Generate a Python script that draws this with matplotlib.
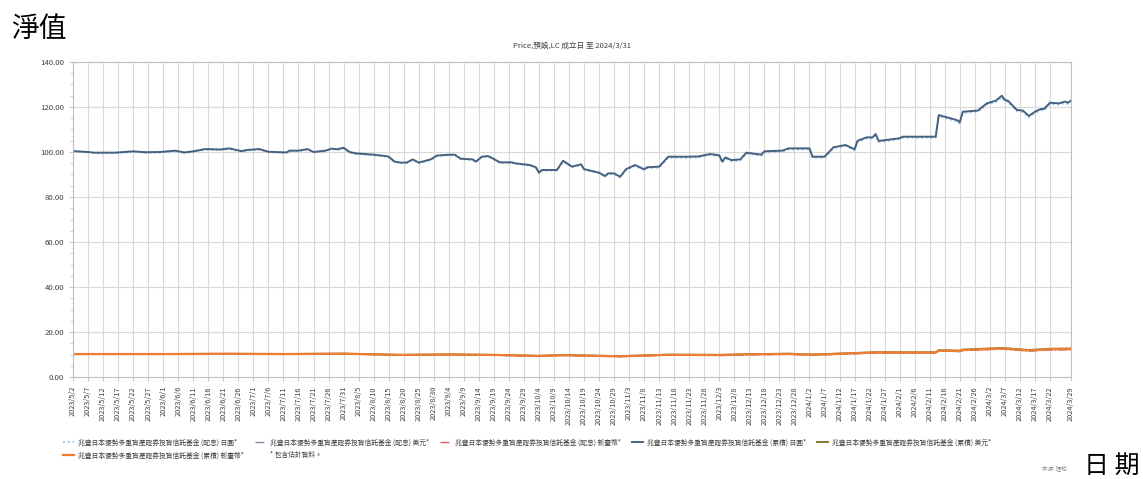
import numpy as np
import matplotlib
matplotlib.use("Agg")
import matplotlib.pyplot as plt
import pandas as pd
from matplotlib.lines import Line2D
from matplotlib.ticker import MultipleLocator

plt.rcParams['font.family'] = ['Noto Sans CJK TC', 'DejaVu Sans']

# 日圓級別 (累積 / 配息)
jpy_dates = ["2023-05-02", "2023-05-07", "2023-05-09", "2023-05-16", "2023-05-22", "2023-05-26",
             "2023-05-31", "2023-06-05", "2023-06-08", "2023-06-11", "2023-06-15", "2023-06-20",
             "2023-06-23", "2023-06-27", "2023-06-29", "2023-07-03", "2023-07-06", "2023-07-12",
             "2023-07-13", "2023-07-16", "2023-07-19", "2023-07-21", "2023-07-25", "2023-07-27",
             "2023-07-29", "2023-07-31", "2023-08-02", "2023-08-04", "2023-08-10", "2023-08-14",
             "2023-08-15", "2023-08-17", "2023-08-19", "2023-08-21", "2023-08-23", "2023-08-25",
             "2023-08-29", "2023-08-31", "2023-09-04", "2023-09-06", "2023-09-08", "2023-09-12",
             "2023-09-13", "2023-09-15", "2023-09-17", "2023-09-18", "2023-09-21", "2023-09-25",
             "2023-09-26", "2023-10-01", "2023-10-03", "2023-10-04", "2023-10-05", "2023-10-10",
             "2023-10-12", "2023-10-15", "2023-10-18", "2023-10-19", "2023-10-24", "2023-10-26",
             "2023-10-27", "2023-10-29", "2023-10-31", "2023-11-02", "2023-11-05", "2023-11-08",
             "2023-11-09", "2023-11-13", "2023-11-16", "2023-11-22", "2023-11-26", "2023-11-30",
             "2023-12-03", "2023-12-04", "2023-12-05", "2023-12-07", "2023-12-10", "2023-12-12",
             "2023-12-17", "2023-12-18", "2023-12-24", "2023-12-26", "2024-01-02", "2024-01-03",
             "2024-01-07", "2024-01-10", "2024-01-14", "2024-01-17", "2024-01-18", "2024-01-21",
             "2024-01-23", "2024-01-24", "2024-01-25", "2024-02-01", "2024-02-02", "2024-02-13",
             "2024-02-14", "2024-02-20", "2024-02-21", "2024-02-22", "2024-02-27", "2024-03-01",
             "2024-03-04", "2024-03-06", "2024-03-07", "2024-03-08", "2024-03-11", "2024-03-13",
             "2024-03-15", "2024-03-17", "2024-03-19", "2024-03-20", "2024-03-22", "2024-03-25",
             "2024-03-27", "2024-03-28", "2024-03-29"]
jpy_acc = [100.4, 100.0, 99.7, 99.7, 100.3, 99.9, 100.0, 100.6, 99.8, 100.3, 101.3, 101.1,
           101.6, 100.4, 100.9, 101.3, 100.1, 99.8, 100.6, 100.6, 101.3, 100.0, 100.6, 101.5,
           101.2, 101.9, 100.0, 99.4, 98.8, 98.2, 97.9, 95.7, 95.3, 95.3, 96.7, 95.3,
           96.7, 98.4, 98.8, 98.8, 97.0, 96.7, 95.7, 97.9, 98.2, 97.6, 95.4, 95.4,
           95.0, 94.2, 93.2, 90.8, 92.0, 92.0, 96.1, 93.5, 94.5, 92.4, 90.8, 89.3,
           90.5, 90.5, 89.0, 92.4, 94.2, 92.3, 93.2, 93.5, 97.9, 97.9, 98.0, 99.1,
           98.5, 95.7, 97.6, 96.4, 96.7, 99.7, 98.8, 100.3, 100.6, 101.6, 101.6, 97.9,
           97.9, 102.1, 103.1, 101.2, 105.0, 106.5, 106.5, 108.0, 104.9, 106.1, 106.8, 106.8,
           116.4, 114.2, 113.2, 117.9, 118.4, 121.6, 122.8, 125.0, 123.1, 122.8, 118.7, 118.4,
           116.0, 117.9, 119.1, 119.1, 121.9, 121.6, 122.4, 121.9, 122.8]
jpy_dist = [100.2, 99.8, 99.4, 99.4, 100.0, 99.6, 99.7, 100.3, 99.5, 100.0, 101.0, 100.8,
            101.3, 100.1, 100.6, 101.0, 99.8, 99.5, 100.3, 100.3, 101.0, 99.7, 100.3, 101.2,
            100.9, 101.6, 99.7, 99.1, 98.5, 97.9, 97.6, 95.4, 95.0, 95.0, 96.4, 95.0,
            96.4, 98.1, 98.5, 98.5, 96.7, 96.4, 95.4, 97.6, 97.9, 97.3, 95.1, 95.1,
            94.7, 93.9, 92.9, 90.5, 91.7, 91.7, 95.8, 93.2, 94.2, 92.1, 90.5, 89.0,
            90.2, 90.2, 88.7, 92.0, 93.8, 91.9, 92.8, 93.1, 97.4, 97.4, 97.5, 98.6,
            98.0, 95.2, 97.1, 95.9, 96.2, 99.2, 98.3, 99.8, 100.1, 101.1, 101.1, 97.4,
            97.4, 101.6, 102.6, 100.7, 104.5, 106.0, 106.0, 107.5, 104.4, 105.6, 106.3, 106.3,
            115.8, 113.6, 112.6, 117.3, 117.8, 121.0, 122.2, 124.4, 122.5, 122.2, 118.1, 117.8,
            115.4, 117.3, 118.5, 118.5, 121.3, 121.0, 121.8, 121.3, 122.2]

# 美元 / 新臺幣級別
low_dates = ["2023-05-02", "2023-06-01", "2023-06-23", "2023-07-12", "2023-07-31", "2023-08-19",
             "2023-09-04", "2023-09-21", "2023-10-04", "2023-10-12", "2023-10-31", "2023-11-16",
             "2023-12-04", "2023-12-12", "2023-12-26", "2024-01-03", "2024-01-14", "2024-01-24",
             "2024-02-02", "2024-02-13", "2024-02-14", "2024-02-21", "2024-02-22", "2024-03-06",
             "2024-03-15", "2024-03-22", "2024-03-29"]
acc_twd = [10.20, 10.20, 10.30, 10.20, 10.35, 9.80, 10.00, 9.75, 9.35, 9.70, 9.20, 9.85, 9.75,
           10.05, 10.25, 9.90, 10.40, 10.90, 10.85, 10.85, 11.75, 11.55, 12.00, 12.70, 11.80,
           12.35, 12.45]
acc_usd = [10.20, 10.22, 10.33, 10.24, 10.40, 9.86, 10.06, 9.82, 9.42, 9.78, 9.28, 9.94, 9.85,
           10.15, 10.36, 10.01, 10.52, 11.03, 10.99, 11.00, 11.92, 11.72, 12.18, 12.90, 12.00,
           12.56, 12.67]
dist_usd = [10.20, 10.20, 10.28, 10.18, 10.32, 9.76, 9.95, 9.68, 9.27, 9.62, 9.12, 9.76, 9.66,
            9.95, 10.14, 9.79, 10.28, 10.77, 10.71, 10.72, 11.60, 11.40, 11.84, 12.53, 11.64,
            12.18, 12.28]
dist_twd = [10.20, 10.18, 10.26, 10.15, 10.28, 9.72, 9.90, 9.63, 9.22, 9.57, 9.06, 9.70, 9.59,
            9.88, 10.06, 9.71, 10.19, 10.68, 10.62, 10.62, 11.49, 11.29, 11.72, 12.40, 11.52,
            12.05, 12.14]

fund = "兆豐日本優勢多重資產證券投資信託基金"
names = [fund + " (配息) 日圓*", fund + " (配息) 美元*", fund + " (配息) 新臺幣*",
         fund + " (累積) 日圓*", fund + " (累積) 美元*", fund + " (累積) 新臺幣*"]

jd = pd.to_datetime(jpy_dates)
ld = pd.to_datetime(low_dates)

fig = plt.figure(figsize=(11.43, 4.79), dpi=100)
ax = fig.add_axes([0.0639, 0.2129, 0.8731, 0.6577])

h_dist_usd, = ax.plot(ld, dist_usd, color='#7d8fa8', lw=1.0, ls='-.')
h_dist_twd, = ax.plot(ld, dist_twd, color='#e06060', lw=1.0, ls='-.')
h_acc_usd, = ax.plot(ld, acc_usd, color='#8a7433', lw=1.4)
h_acc_twd, = ax.plot(ld, acc_twd, color='#ed7d31', lw=1.6)
h_dist_jpy, = ax.plot(jd, jpy_dist, color='#9cc3e6', lw=1.3, ls=':')
h_acc_jpy, = ax.plot(jd, jpy_acc, color='#46617f', lw=1.4)

# x 軸: 每 5 天一個刻度, 最後一個是 2024/3/29
start = pd.Timestamp("2023-05-02")
end = pd.Timestamp("2024-03-29")
ticks = list(pd.date_range(start, "2024-03-22", freq="5D")) + [end]
ax.set_xticks(ticks)
ax.set_xticklabels([f"{t.year}/{t.month}/{t.day}" for t in ticks], rotation=90,
                   fontsize=5.3, color='#404040')
ax.set_xlim(start, end)

ax.set_ylim(0, 140)
ax.yaxis.set_major_locator(MultipleLocator(20))
ax.yaxis.set_minor_locator(MultipleLocator(5))
ax.set_yticklabels([f"{v:.2f}" for v in ax.get_yticks()], fontsize=5.6, color='#404040')

ax.grid(True, which='major', color='#d9d9d9', lw=0.8)
ax.set_axisbelow(True)
for s in ax.spines.values():
    s.set_color('#bfbfbf')
    s.set_linewidth(0.8)
ax.tick_params(axis='both', which='both', color='#bfbfbf', length=3, width=0.6)
ax.tick_params(axis='y', which='minor', length=2)

ax.set_title("Price,預設,LC 成立日 至 2024/3/31", fontsize=5.5, color='#404040', pad=10)

# legend: 兩行, 第一行 5 個, 第二行 2 個
blank = Line2D([], [], color='none')
handles = [h_dist_jpy, h_acc_twd, h_dist_usd, blank, h_dist_twd, h_acc_jpy, h_acc_usd]
labels = [names[0], names[5], names[1], "* 包含估計資料。", names[2], names[3], names[4]]
fig.legend(handles, labels, ncol=5, loc='upper left', bbox_to_anchor=(0.05, 1 - 432 / 479),
           frameon=False, fontsize=4.9, handlelength=1.6, columnspacing=1.6,
           labelspacing=0.75, handletextpad=0.6, labelcolor='#404040')

fig.text(0.010, 0.94, "淨值", fontsize=20, color='black', va='center')
fig.text(0.948, 0.027, "日 期", fontsize=18, color='black', va='center')
fig.text(0.912, 0.022, "來源: 理柏", fontsize=4, color='#8c8c8c', va='center')

fig.savefig("out.png", dpi=100)
